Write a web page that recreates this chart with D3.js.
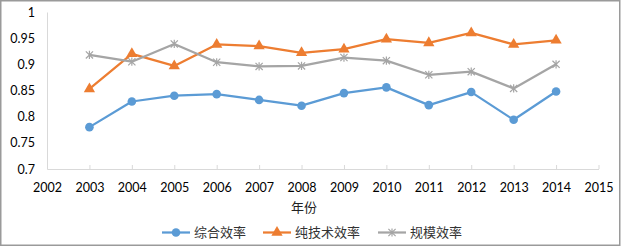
<!DOCTYPE html>
<html><head><meta charset="utf-8">
<script src="https://cdn.jsdelivr.net/npm/d3@7"></script>
<style>body{margin:0;background:#fff}svg{display:block}</style>
</head><body>
<script>
const years = [2003,2004,2005,2006,2007,2008,2009,2010,2011,2012,2013,2014];
const comprehensive = [0.780,0.829,0.840,0.843,0.832,0.821,0.845,0.856,0.822,0.847,0.794,0.848];
const pureTech = [0.853,0.920,0.897,0.938,0.935,0.922,0.929,0.948,0.941,0.960,0.938,0.946];
const scale = [0.918,0.905,0.939,0.904,0.896,0.897,0.913,0.907,0.880,0.886,0.854,0.900];
const seriesNames = ["综合效率","纯技术效率","规模效率"];
const xTicks = [2002,2003,2004,2005,2006,2007,2008,2009,2010,2011,2012,2013,2014,2015];
const yTicks = [0.7,0.75,0.8,0.85,0.9,0.95,1];
const xTitle = "年份";

const W=621,H=247;
const svg=d3.select("body").append("svg").attr("width",W).attr("height",H);
svg.append("rect").attr("x",0.75).attr("y",0.75).attr("width",W-2).attr("height",H-2.5)
  .attr("fill","#fff").attr("stroke","#9a9a9a").attr("stroke-width",1.5);

const x=d3.scaleLinear().domain([2002,2015]).range([47,598.5]);
const y=d3.scaleLinear().domain([0.7,1]).range([169,12]);
const font="Lato, 'Noto Sans', sans-serif";

// axes
const gx=svg.append("g").attr("transform","translate(0,169)")
  .call(d3.axisBottom(x).tickValues(xTicks).tickFormat(d3.format("d")).tickSize(0).tickPadding(14));
gx.select(".domain").attr("stroke","#d9d9d9");
gx.selectAll("text").attr("font-family",font).attr("font-size",12.5).attr("fill","#000");
gx.selectAll(".tick").append("line").attr("y1",-4).attr("y2",0).attr("stroke","#d9d9d9");

const gy=svg.append("g").attr("transform","translate(47,0)")
  .call(d3.axisLeft(y).tickValues(yTicks).tickFormat(d=>String(+d.toFixed(2))).tickSize(0).tickPadding(12));
gy.select(".domain").attr("stroke","#d9d9d9");
gy.selectAll("text").attr("font-family",font).attr("font-size",12.5).attr("fill","#000");

svg.append("text").attr("x",304).attr("y",212).attr("text-anchor","middle")
  .attr("font-family","'Noto Sans CJK SC', sans-serif").attr("font-size",13).attr("fill","#222").text(xTitle);

const colors=["#5B9BD5","#ED7D31","#A5A5A5"];
const data=[comprehensive,pureTech,scale];
const line=d3.line().x((d,i)=>x(years[i])).y(d=>y(d));

function marker(g,type,cx,cy,c){
  if(type===0){
    g.append("circle").attr("cx",cx).attr("cy",cy).attr("r",4.3).attr("fill",c);
  } else if(type===1){
    g.append("path").attr("d",d3.symbol().type(d3.symbolTriangle).size(55)()).attr("transform",`translate(${cx},${cy})`).attr("fill",c);
  } else {
    const s=3.6;
    g.append("path").attr("d",`M${cx-s},${cy-s}L${cx+s},${cy+s}M${cx-s},${cy+s}L${cx+s},${cy-s}M${cx},${cy-s-0.5}L${cx},${cy+s+0.5}`)
      .attr("stroke",c).attr("stroke-width",1.2).attr("fill","none");
  }
}

data.forEach((vals,k)=>{
  const g=svg.append("g");
  g.append("path").datum(vals).attr("d",line).attr("fill","none").attr("stroke",colors[k]).attr("stroke-width",2.25).attr("stroke-linejoin","round");
  vals.forEach((v,i)=>marker(g,k,x(years[i]),y(v),colors[k]));
});

// legend
const legX=[162,263,378];
const ly=232.5;
seriesNames.forEach((n,k)=>{
  const g=svg.append("g");
  g.append("line").attr("x1",legX[k]).attr("x2",legX[k]+28).attr("y1",ly).attr("y2",ly).attr("stroke",colors[k]).attr("stroke-width",2.25);
  marker(g,k,legX[k]+14,ly,colors[k]);
  g.append("text").attr("x",legX[k]+32).attr("y",ly+4.5).attr("font-family","'Noto Sans CJK SC', sans-serif").attr("font-size",13).attr("fill","#333").text(n);
});
</script>
</body></html>
